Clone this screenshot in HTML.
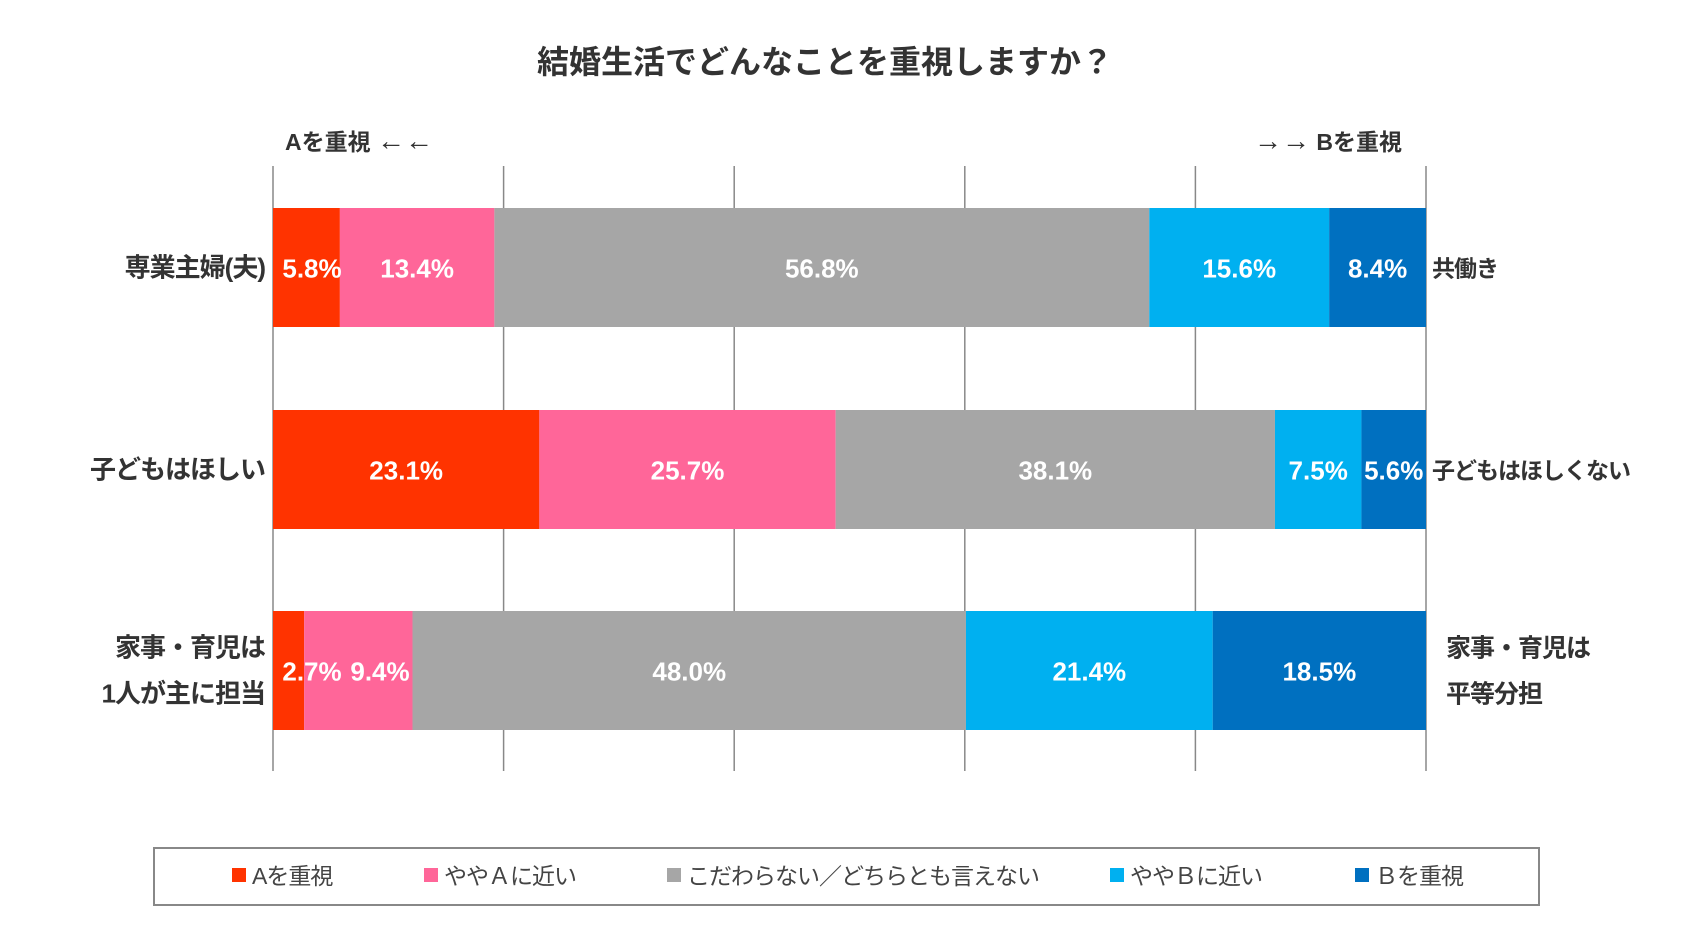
<!DOCTYPE html>
<html><head><meta charset="utf-8"><style>
body{margin:0;background:#fff;width:1692px;height:939px;overflow:hidden;font-family:"Liberation Sans","Noto Sans CJK JP",sans-serif}
</style></head><body>
<svg id="c" width="1692" height="939" xmlns="http://www.w3.org/2000/svg" font-family="Liberation Sans, Noto Sans CJK JP, sans-serif">
<text x="825" y="73" text-anchor="middle" font-size="32" font-weight="bold" fill="#333">結婚生活でどんなことを重視しますか？</text>
<text x="285" y="150" font-size="23" font-weight="bold" fill="#333">Aを重視 <tspan font-size="28">←←</tspan></text>
<text x="1402" y="150" text-anchor="end" font-size="23" font-weight="bold" fill="#333"><tspan font-size="28">→→</tspan> Bを重視</text>
<g id="grid"></g><g id="bars"></g><g id="labels"></g>
<rect x="154" y="848" width="1385" height="57" fill="none" stroke="#888" stroke-width="2"/>
<g id="legend"></g>
</svg>
<script>
const categories=["専業主婦(夫)","子どもはほしい","家事・育児は1人が主に担当"];
const rightLabels=["共働き","子どもはほしくない","家事・育児は平等分担"];
const seriesNames=["Aを重視","ややＡに近い","こだわらない／どちらとも言えない","ややＢに近い","Ｂを重視"];
const sA=[5.8,23.1,2.7];
const sA2=[13.4,25.7,9.4];
const sN=[56.8,38.1,48.0];
const sB2=[15.6,7.5,21.4];
const sB=[8.4,5.6,18.5];
const ticks=[0,20,40,60,80,100];
const series=[sA,sA2,sN,sB2,sB];
const colors=["#ff3300","#ff6699","#a6a6a6","#00b0f0","#0070c0"];
const NS="http://www.w3.org/2000/svg";
const x0=273,x1=1426;
const xs=v=>x0+(x1-x0)*v/100;
const rowTop=[208,410,611],barH=119;
function mk(t,a,p){const e=document.createElementNS(NS,t);for(const k in a)e.setAttribute(k,a[k]);document.getElementById(p).appendChild(e);return e;}
ticks.forEach(t=>{const l=mk('line',{x1:xs(t),x2:xs(t),y1:166,y2:771,stroke:'#888','stroke-width':1.5},'grid');

});
categories.forEach((c,i)=>{let acc=0;const y=rowTop[i];let prevEnd=x0+2;
series.forEach((s,j)=>{const v=s[i];const r=mk('rect',{x:xs(acc),y:y,width:xs(acc+v)-xs(acc),height:barH,fill:colors[j]},'bars');


const txt=v.toFixed(1)+'%';const w=txt.length*15.5;
let start=(xs(acc)+xs(acc+v))/2-w/2;
if(start<prevEnd+6)start=prevEnd+6;
prevEnd=start+w;
const t=mk('text',{x:start+w/2,y:y+barH/2+10,'text-anchor':'middle','font-size':26,'font-weight':'bold',fill:'#fff'},'labels');
t.textContent=txt;


acc+=v;});
const cy=y+barH/2;
const lines=i==2?["家事・育児は","1人が主に担当"]:[c];
const rl=i==2?["家事・育児は","平等分担"]:[rightLabels[i]];
lines.forEach((s,k)=>{const t=mk('text',{x:265,y:cy+9+(lines.length>1?(k?23:-23):0),'text-anchor':'end','font-size':26,'font-weight':'bold',fill:'#333','letter-spacing':'-1'},'labels');t.textContent=s;

});
rl.forEach((s,k)=>{const t=mk('text',{x:i==2?1446:1432,y:cy+9+(rl.length>1?(k?23:-23):0),'font-size':i==2?25:23,'font-weight':'bold',fill:'#333','letter-spacing':'-1'},'labels');t.textContent=s;

});
});
const lx=[232,424,667,1110,1355];
seriesNames.forEach((n,j)=>{const r=mk('rect',{x:lx[j],y:868,width:14,height:14,fill:colors[j]},'legend');


const t=mk('text',{x:lx[j]+20,y:884,'font-size':23,fill:'#444','letter-spacing':'-1'},'legend');t.textContent=n;

});
</script>
</body></html>
